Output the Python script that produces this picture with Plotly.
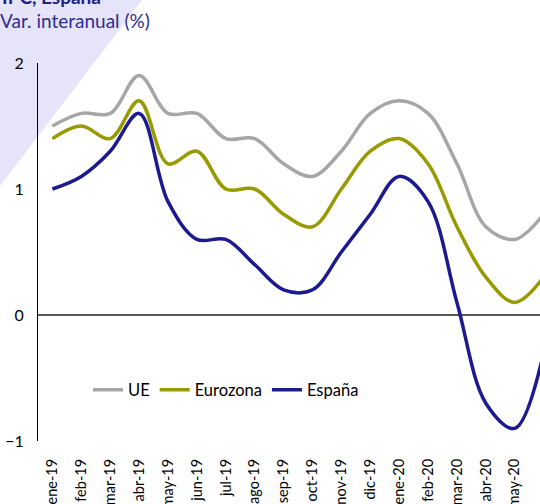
import plotly.graph_objects as go

months = ["ene-19", "feb-19", "mar-19", "abr-19", "may-19", "jun-19", "jul-19", "ago-19",
          "sep-19", "oct-19", "nov-19", "dic-19", "ene-20", "feb-20", "mar-20", "abr-20",
          "may-20", "jun-20"]
ue = [1.5, 1.6, 1.6, 1.9, 1.6, 1.6, 1.4, 1.4, 1.2, 1.1, 1.3, 1.6, 1.7, 1.6, 1.2, 0.7, 0.6, 0.8]
eurozona = [1.4, 1.5, 1.4, 1.7, 1.2, 1.3, 1.0, 1.0, 0.8, 0.7, 1.0, 1.3, 1.4, 1.2, 0.7, 0.3, 0.1, 0.3]
espana = [1.0, 1.1, 1.3, 1.6, 0.9, 0.6, 0.6, 0.4, 0.2, 0.2, 0.5, 0.8, 1.1, 0.9, 0.1, -0.7, -0.9, -0.3]

FONT = "Lato"
W, H = 540, 504
ML, MR, MT, MB = 38, 0, 63, 63
pw, ph = W - ML - MR, H - MT - MB


def px(x):
    return (x - ML) / pw


def py(y):
    return (H - MB - y) / ph


fig = go.Figure()
series = [("UE", ue, "#a6a6a6"), ("Eurozona", eurozona, "#999900"), ("España", espana, "#1b1b8f")]
for name, vals, col in series:
    fig.add_trace(go.Scatter(
        x=list(range(len(months))), y=vals, name=name, mode="lines",
        line=dict(color=col, width=3.5, shape="spline", smoothing=1),
    ))

fig.add_shape(type="path", xref="paper", yref="paper", layer="below",
              path=f"M {px(0)} {py(0)} L {px(142)} {py(0)} L {px(0)} {py(186)} Z",
              fillcolor="#e6e4f8", line=dict(width=0))

fig.add_annotation(text="<b>IPC, España</b>", xref="paper", yref="paper",
                   x=px(0), y=py(10), xanchor="left", yanchor="bottom", showarrow=False,
                   font=dict(family=FONT, size=19, color="#1f1f8a"))
fig.add_annotation(text="Var. interanual (%)", xref="paper", yref="paper",
                   x=px(-2), y=py(21), xanchor="left", yanchor="middle", showarrow=False,
                   font=dict(family=FONT, size=19, color="#2e2e90"))

fig.update_layout(
    width=W, height=H,
    margin=dict(l=ML, r=MR, t=MT, b=MB, autoexpand=False),
    paper_bgcolor="white", plot_bgcolor="rgba(0,0,0,0)",
    font=dict(family=FONT, size=15, color="black"),
    showlegend=True,
    legend=dict(orientation="h", x=px(88), y=py(390), xanchor="left", yanchor="middle",
                font=dict(family=FONT, size=16.5, color="black"), bgcolor="rgba(0,0,0,0)",
                itemwidth=30, tracegroupgap=0),
    xaxis=dict(range=[-0.5, (540 - 54) / 28.8], tickmode="array",
               tickvals=list(range(len(months))), ticktext=months, automargin=False,
               tickangle=-90, showgrid=False, zeroline=False, showline=False,
               ticks="", ticklabelstandoff=14, tickfont=dict(family=FONT, size=14.5)),
    yaxis=dict(range=[-1, 2], tickvals=[-1, 0, 1, 2], showgrid=False, automargin=False,
               zeroline=True, zerolinecolor="#595959", zerolinewidth=1.5,
               showline=True, linecolor="black", linewidth=1, ticks="",
               ticklabelstandoff=10, tickfont=dict(family=FONT, size=16)),
)

fig.write_html("out.html", config={"displayModeBar": False},
               post_script="document.body.style.margin='0px';")
